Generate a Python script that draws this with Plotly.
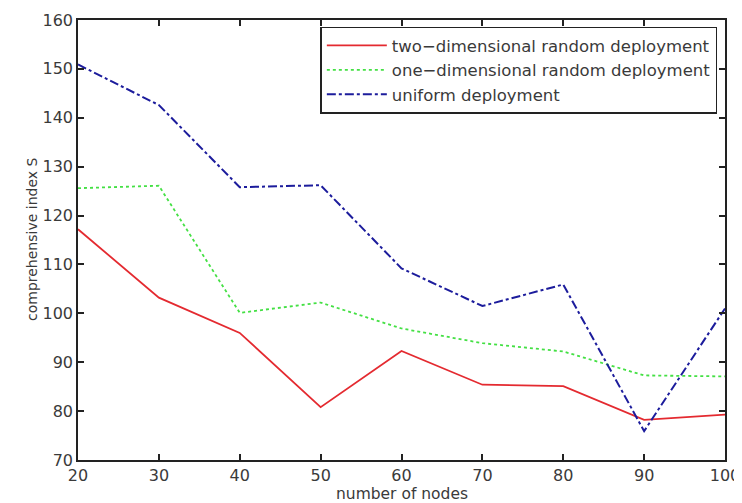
import plotly.graph_objects as go

nodes = [20, 30, 40, 50, 60, 70, 80, 90, 100]
two_dim = [117.2, 103.2, 96.0, 80.8, 92.3, 85.4, 85.1, 78.2, 79.3]
one_dim = [125.6, 126.1, 100.1, 102.2, 96.9, 93.9, 92.2, 87.3, 87.1]
uniform = [150.9, 142.6, 125.8, 126.2, 109.2, 101.5, 105.9, 75.9, 101.0]

series_names = ["two\u2212dimensional random deployment",
                "one\u2212dimensional random deployment",
                "uniform deployment"]

FONT = "DejaVu Sans, Liberation Sans, Arial"
TXT = "#3a3a3a"

fig = go.Figure()
fig.add_trace(go.Scatter(x=nodes, y=two_dim, mode="lines", name=series_names[0],
                         line=dict(color="#e42a30", width=1.8, dash="solid")))
fig.add_trace(go.Scatter(x=nodes, y=one_dim, mode="lines", name=series_names[1],
                         line=dict(color="#44e044", width=1.8, dash="dot")))
fig.add_trace(go.Scatter(x=nodes, y=uniform, mode="lines", name=series_names[2],
                         line=dict(color="#1c1c9c", width=2, dash="dashdot")))

axis_common = dict(showgrid=False, zeroline=False, showline=True, linecolor="#222",
                   linewidth=1.6, mirror="ticks", ticks="inside", ticklen=6,
                   tickcolor="#222", tickwidth=1.6, automargin=False,
                   ticklabeloverflow="allow",
                   tickfont=dict(family=FONT, size=16, color=TXT))

# The page body keeps an 8px default margin, so the figure is sized to the
# visible 734x495 area of the 742x503 window.
fig.update_layout(
    width=734, height=495,
    margin=dict(l=70, r=17, t=12, b=43),
    paper_bgcolor="white", plot_bgcolor="white",
    xaxis=dict(range=[20, 100], tickvals=nodes, **axis_common),
    yaxis=dict(range=[70, 160], tickvals=list(range(70, 161, 10)), **axis_common),
    legend=dict(x=0.988, y=0.985, xanchor="right", yanchor="top",
                bgcolor="white", bordercolor="#222", borderwidth=1.6,
                font=dict(family=FONT, size=16.5, color=TXT),
                tracegroupgap=0, itemwidth=60),
    showlegend=True,
    annotations=[
        dict(text="number of nodes", xref="paper", yref="paper", x=0.5, y=0,
             xanchor="center", yanchor="top", yshift=-23, showarrow=False,
             font=dict(family=FONT, size=15.5, color=TXT)),
        dict(text="comprehensive index S", xref="paper", yref="paper", x=0, y=0.5,
             xanchor="center", yanchor="middle", xshift=-46, textangle=-90,
             showarrow=False, font=dict(family=FONT, size=14, color=TXT)),
    ],
)

fig.write_html("out.html")
